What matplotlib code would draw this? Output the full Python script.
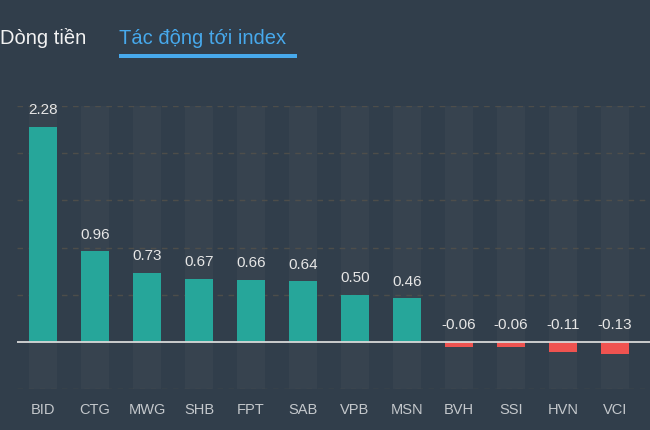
# Tác động tới index - bar chart recreation

import matplotlib.pyplot as plt
from matplotlib.patches import Rectangle

plt.rcParams['font.family'] = ['Liberation Sans', 'DejaVu Sans']

# last ticker is cut off in the original, name not visible
tickers = ["BID", "CTG", "MWG", "SHB", "FPT", "SAB", "VPB", "MSN",
           "BVH", "SSI", "HVN", "VCI", ""]
impact = [2.28, 0.96, 0.73, 0.67, 0.66, 0.64, 0.50, 0.46,
          -0.06, -0.06, -0.11, -0.13, -0.15]
y_ticks = [-0.5, 0, 0.5, 1.0, 1.5, 2.0, 2.5]

BG = "#313e4b"
BAND = "#37434f"
UP = "#26a69a"
DOWN = "#ef5350"
TXT = "#e6e6e6"
TICK = "#c4c8cc"
TAB_BLUE = "#47a9ec"

W, H = 650, 430
fig = plt.figure(figsize=(W / 100, H / 100), dpi=100)
fig.patch.set_facecolor(BG)

# axes extends past the right edge, like the cropped original
slot = 52
left = 17
ax = fig.add_axes([left / W, (H - 389) / H, len(tickers) * slot / W, (389 - 106) / H])
ax.set_facecolor(BG)

x = list(range(len(tickers)))
ax.set_xlim(-0.5, len(tickers) - 0.5)
ax.set_ylim(y_ticks[0], y_ticks[-1])

# background bands behind each bar
for i in x:
    ax.add_patch(Rectangle((i - 0.27, y_ticks[0]), 0.54, y_ticks[-1] - y_ticks[0],
                           facecolor=BAND, edgecolor="none", zorder=0))

for yv in y_ticks:
    if yv == 0:
        continue
    ax.axhline(yv, color="#55524a", lw=1, ls=(0, (4, 4)), alpha=0.8, zorder=1)
ax.axhline(0, color="#d8d8d8", lw=1.3, zorder=3)

colors = [UP if v >= 0 else DOWN for v in impact]
ax.bar(x, impact, width=0.54, color=colors, zorder=2)

for i, v in zip(x, impact):
    ax.annotate(f"{v:.2f}", (i, max(v, 0)), xytext=(0, 7), textcoords="offset points",
                ha="center", va="bottom", color=TXT, fontsize=11)

ax.set_xticks(x)
ax.set_xticklabels(tickers, color=TICK, fontsize=10.5)
ax.tick_params(axis="x", length=0, pad=10)
ax.set_yticks([])
for s in ax.spines.values():
    s.set_visible(False)

# tab header
fig.text(0 / W, 1 - 38 / H, "Dòng tiền", color="#f2f2f2", fontsize=14.5, va="center", ha="left")
fig.text(119 / W, 1 - 38 / H, "Tác động tới index", color=TAB_BLUE, fontsize=14.5,
         va="center", ha="left")
fig.add_artist(Rectangle((119 / W, 1 - 58 / H), 178 / W, 4 / H, transform=fig.transFigure,
                         facecolor=TAB_BLUE, edgecolor="none"))

fig.savefig("out.png", dpi=100, facecolor=BG)
